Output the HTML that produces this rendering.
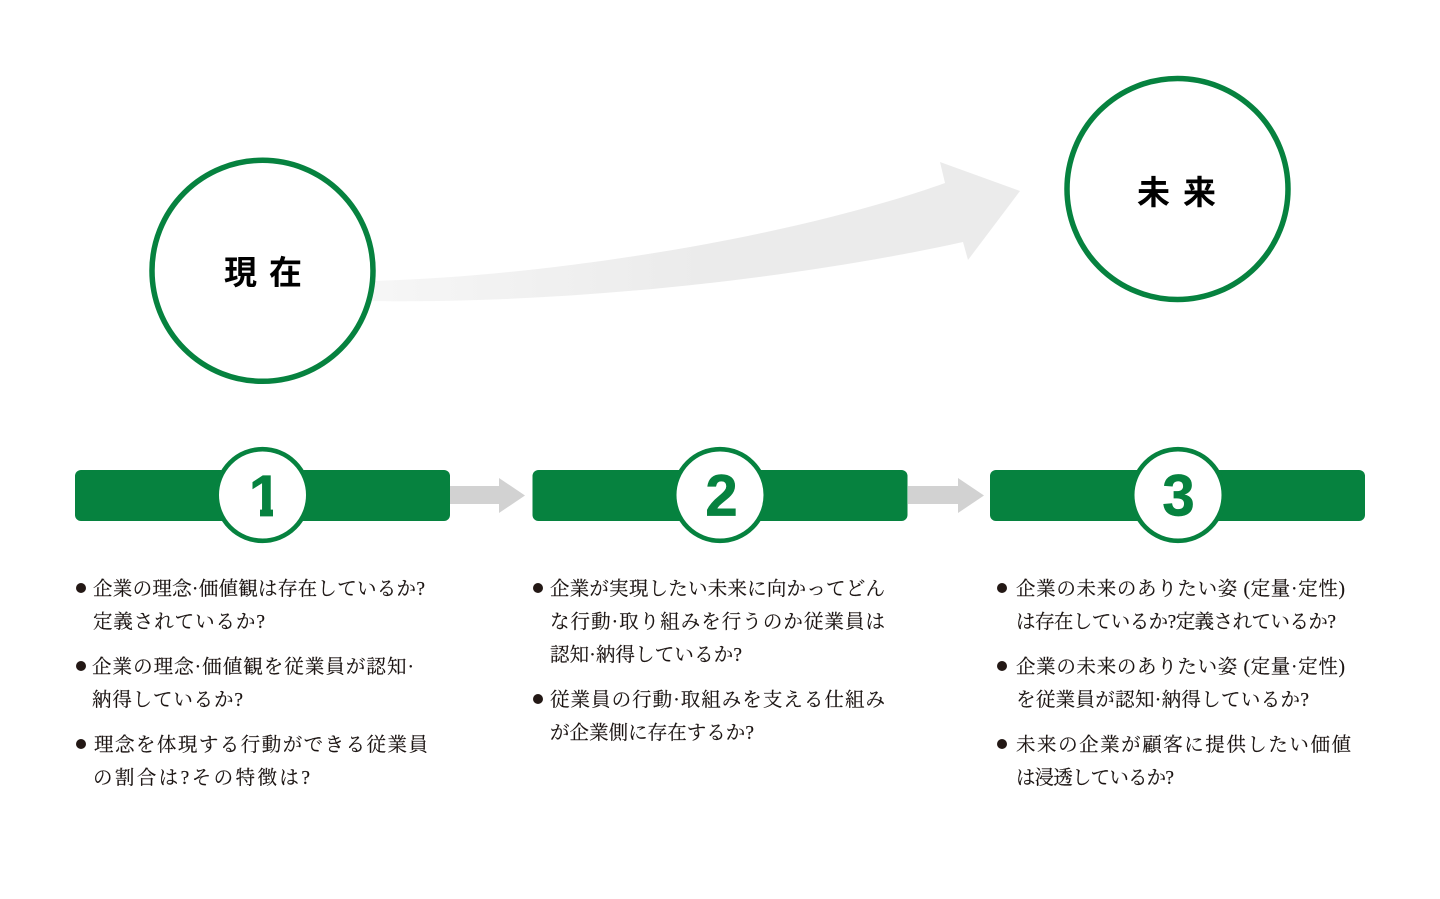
<!DOCTYPE html>
<html lang="ja">
<head>
<meta charset="utf-8">
<title>現在と未来</title>
<style>
html,body{margin:0;padding:0;background:#fff;width:1440px;height:899px;overflow:hidden}
svg{display:block}
.t{font-family:"Liberation Serif","Noto Serif CJK JP","Noto Serif CJK SC",serif;font-size:19.5px;fill:#1a1311;font-weight:400;stroke:#1a1311;stroke-width:.15}
.h{font-family:"Liberation Sans","Noto Sans CJK JP",sans-serif;font-size:33px;font-weight:700;fill:#000}
.n{font-family:"Liberation Sans",sans-serif;font-size:58px;font-weight:700;fill:#06823f;stroke:#06823f;stroke-width:.7;text-anchor:middle}
</style>
</head>
<body>
<svg width="1440" height="899" viewBox="0 0 1440 899" xmlns="http://www.w3.org/2000/svg">
<defs>
<linearGradient id="g" x1="376" y1="0" x2="700" y2="0" gradientUnits="userSpaceOnUse">
<stop offset="0" stop-color="#f6f6f6"/><stop offset="1" stop-color="#ebebeb"/>
</linearGradient>
<clipPath id="one"><polygon points="240,465 285,465 285,500 273,500 273,520 260,520 260,500 240,500"/></clipPath>
</defs>
<rect width="1440" height="899" fill="#fff"/>

<path d="M372 281 C 560 276 800 235 945 183 L940 162 L1020 191 L968 260 L963 242 C 800 278 570 304 372 301 Z" fill="url(#g)"/>

<circle cx="262.5" cy="270.8" r="110.5" fill="#fff" stroke="#06823f" stroke-width="5.5"/>
<circle cx="1177.5" cy="189" r="110.5" fill="#fff" stroke="#06823f" stroke-width="5.5"/>
<text class="h" x="224" y="284" textLength="78">現在</text>
<text class="h" x="1137" y="204" textLength="79">未来</text>

<polygon points="450,486 499,486 499,478 525,495.5 499,513 499,504 450,504" fill="#d2d2d2"/>
<polygon points="908,486 958,486 958,478 984,495.5 958,513 958,504 908,504" fill="#d2d2d2"/>

<rect x="75" y="470" width="375" height="51" rx="6" fill="#06823f"/>
<rect x="532.5" y="470" width="375" height="51" rx="6" fill="#06823f"/>
<rect x="990" y="470" width="375" height="51" rx="6" fill="#06823f"/>

<circle cx="262.5" cy="495" r="45.8" fill="#fff" stroke="#06823f" stroke-width="4.6"/>
<circle cx="720" cy="495" r="45.8" fill="#fff" stroke="#06823f" stroke-width="4.6"/>
<circle cx="1178" cy="495" r="45.8" fill="#fff" stroke="#06823f" stroke-width="4.6"/>
<text class="n" x="265" y="516" clip-path="url(#one)">1</text>
<text class="n" x="721.5" y="515.5">2</text>
<text class="n" x="1178.5" y="515.5">3</text>

<g fill="#231815">
<circle cx="81" cy="588" r="5"/><circle cx="81" cy="666" r="5"/><circle cx="81" cy="744" r="5"/>
<circle cx="538" cy="588" r="5"/><circle cx="538" cy="699" r="5"/>
<circle cx="1002" cy="588" r="5"/><circle cx="1002" cy="666" r="5"/><circle cx="1002" cy="744" r="5"/>
</g>

<text class="t" x="93" y="595" textLength="332">企業の理念·価値観は存在しているか?</text>
<text class="t" x="93" y="628" textLength="172">定義されているか?</text>
<text class="t" x="92" y="673" textLength="322">企業の理念·価値観を従業員が認知·</text>
<text class="t" x="92" y="706" textLength="151">納得しているか?</text>
<text class="t" x="94" y="751" textLength="334">理念を体現する行動ができる従業員</text>
<text class="t" x="93" y="784" textLength="217">の割合は?その特徴は?</text>

<text class="t" x="550" y="595" textLength="335">企業が実現したい未来に向かってどん</text>
<text class="t" x="550" y="628" textLength="335">な行動·取り組みを行うのか従業員は</text>
<text class="t" x="550" y="661" textLength="192">認知·納得しているか?</text>
<text class="t" x="550" y="706" textLength="335">従業員の行動·取組みを支える仕組み</text>
<text class="t" x="550" y="739" textLength="204">が企業側に存在するか?</text>

<text class="t" x="1016" y="595" textLength="329">企業の未来のありたい姿 (定量·定性)</text>
<text class="t" x="1016" y="628" textLength="320">は存在しているか?定義されているか?</text>
<text class="t" x="1016" y="673" textLength="329">企業の未来のありたい姿 (定量·定性)</text>
<text class="t" x="1016" y="706" textLength="293">を従業員が認知·納得しているか?</text>
<text class="t" x="1016" y="751" textLength="335">未来の企業が顧客に提供したい価値</text>
<text class="t" x="1016" y="784" textLength="158">は浸透しているか?</text>
</svg>
</body>
</html>
